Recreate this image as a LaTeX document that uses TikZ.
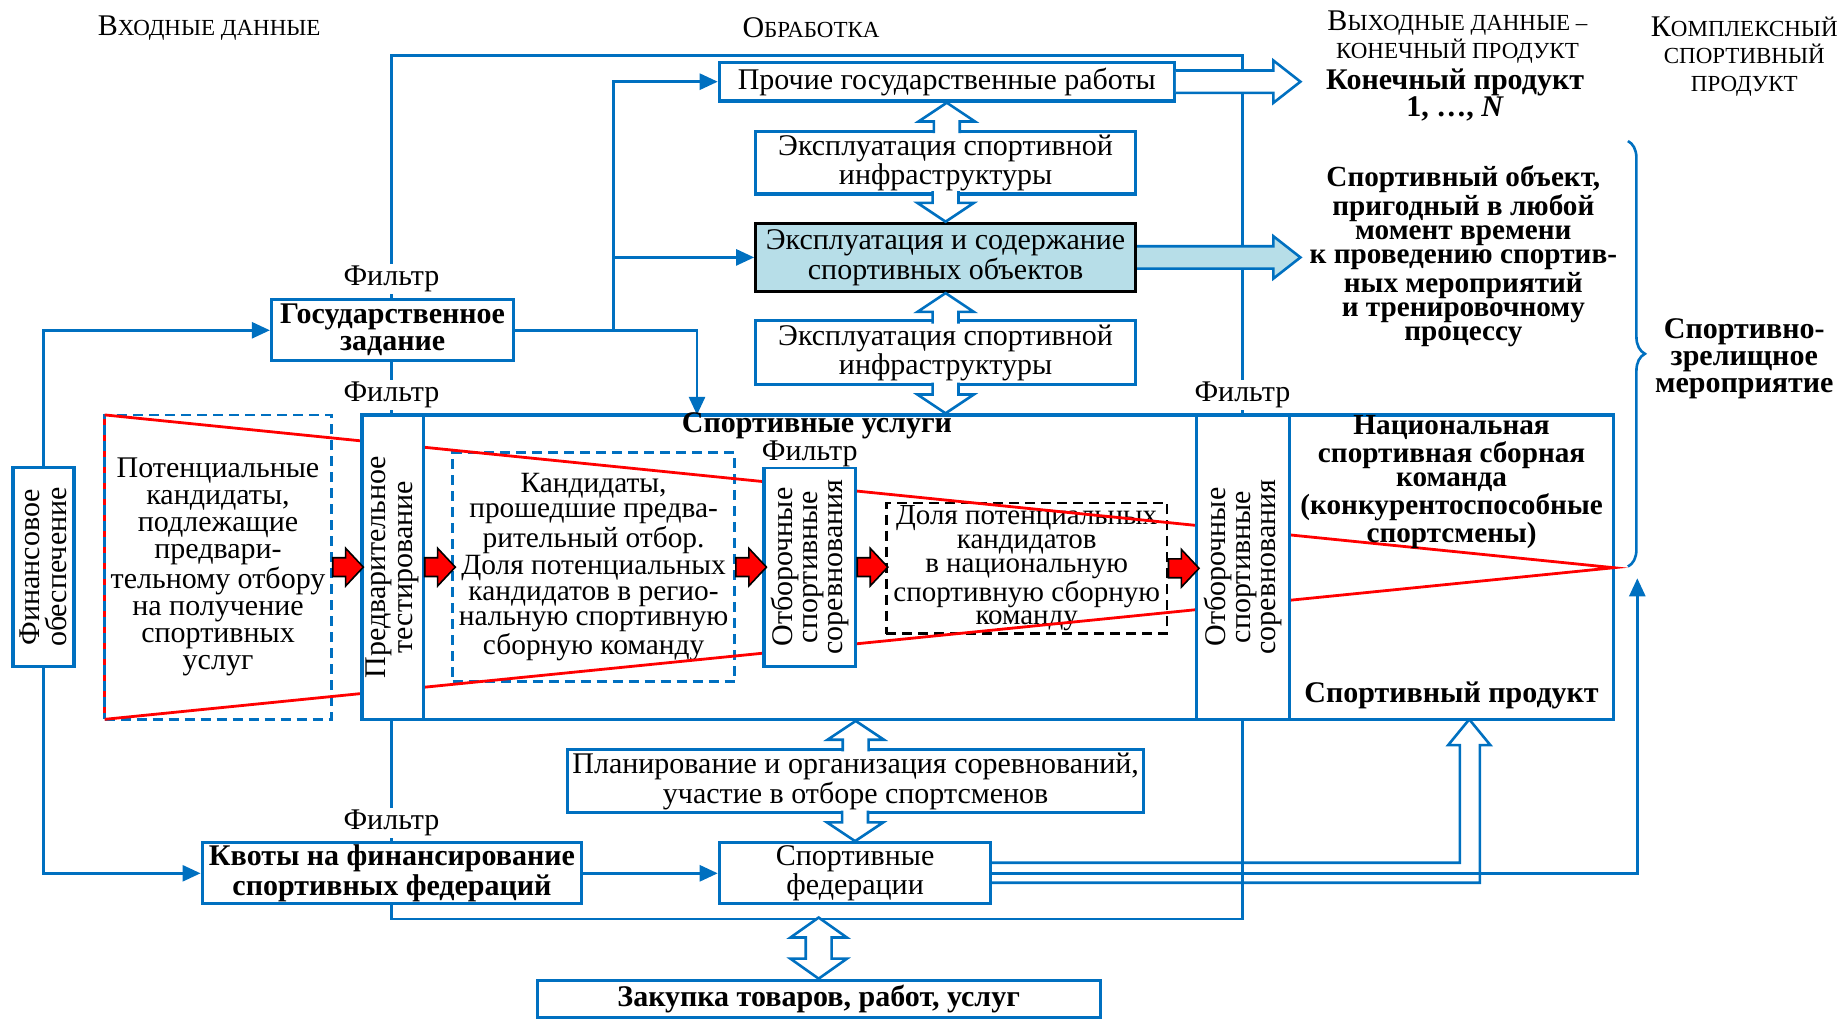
\documentclass[tikz,border=0pt]{standalone}
\usepackage{fontspec}
\setmainfont{Liberation Serif}
\usetikzlibrary{arrows.meta,decorations.pathreplacing,backgrounds,calc}
\definecolor{myblue}{HTML}{0070C0}
\definecolor{lblue}{HTML}{B7DEE8}
\definecolor{myred}{HTML}{FF0000}
\newcommand{\fnorm}{\fontsize{15}{13.5}\selectfont}
\newcommand{\fnormk}{\fontsize{14.7}{12.75}\selectfont}
\newcommand{\fnormt}{\fontsize{14.5}{11.9}\selectfont}
\newcommand{\fbold}{\fontsize{15}{13.5}\selectfont\bfseries}
\newcommand{\fboldt}{\fontsize{14.6}{12}\selectfont\bfseries}
\newcommand{\scbig}{\fontsize{15}{14}\selectfont}
\newcommand{\scsmall}{\fontsize{11.5}{14}\selectfont}
\tikzset{
  pics/uphol/.style={code={\draw[hol] (-11,26) -- (-11,16) -- (-24,16) -- (0,0) -- (24,16) -- (11,16) -- (11,26);}},
  pics/downhol/.style={code={\draw[hol] (-11,-26) -- (-11,-16) -- (-24,-16) -- (0,0) -- (24,-16) -- (11,-16) -- (11,-26);}},
  pics/dblhol/.style={code={\draw[hol] (0,0) -- (24,-17) -- (11,-17) -- (11,-35) -- (24,-35) -- (0,-52) -- (-24,-35) -- (-11,-35) -- (-11,-17) -- (-24,-17) -- cycle;}},
  pics/rhol/.style n args={2}{code={\draw[hol,fill=#2] (0,-9.5) -- (#1-23,-9.5) -- (#1-23,-18) -- (#1,0) -- (#1-23,18) -- (#1-23,9.5) -- (0,9.5);}},
  pics/redarr/.style={code={\draw[fill=myred,draw=black,line width=0.8pt,line join=miter] (0,-8) -- (11,-8) -- (11,-16) -- (26,0) -- (11,16) -- (11,8) -- (0,8) -- cycle;}}
}
\begin{document}
\begin{tikzpicture}[x=0.5877pt,y=-0.5877pt,
  ln/.style={draw=myblue,line width=1.3pt},
  arr/.style={ln,-{Triangle[length=9pt,width=8pt]}},
  box/.style={draw=myblue,line width=1.6pt,fill=white,inner sep=0pt,align=center,font=\fnorm},
  dbox/.style={draw=myblue,line width=1.3pt,dash pattern=on 5pt off 3pt,inner sep=0pt,align=center,font=\fnorm},
  sz/.style 2 args={minimum width=#1*0.5877pt,minimum height=#2*0.5877pt},
  lbl/.style={font=\fnorm,fill=white,inner sep=1pt},
  txt/.style={font=\fnorm,align=center,inner sep=0pt},
  btxt/.style={font=\fbold,align=center,inner sep=0pt},
  hol/.style={draw=myblue,line width=1.3pt,fill=white,line join=miter},
  redln/.style={draw=myred,line width=1.4pt}
]
\useasboundingbox (0,0) rectangle (1568,868);

% headers
\node[txt,font=\fontsize{15}{14}\selectfont] (h1) at (178,24) {{\scbig В}{\scsmall ХОДНЫЕ ДАННЫЕ}};
\node[txt,font=\fontsize{15}{14}\selectfont] (h2) at (690,24) {{\scbig О}{\scsmall БРАБОТКА}};
\node[txt,font=\fontsize{15}{14}\selectfont] (h3) at (1240,32) {{\scbig В}{\scsmall ЫХОДНЫЕ ДАННЫЕ –}\\{\scsmall КОНЕЧНЫЙ ПРОДУКТ}};
\node[txt,font=\fontsize{15}{13.8}\selectfont] (h4) at (1484,48) {{\scbig К}{\scsmall ОМПЛЕКСНЫЙ}\\{\scsmall СПОРТИВНЫЙ}\\{\scsmall ПРОДУКТ}};
\node[btxt] (kp) at (1238,81) {Конечный продукт\\1, …, \textit{N}};
\node[btxt,font=\fboldt] (so) at (1245,218) {Спортивный объект,\\пригодный в любой\\момент времени\\к проведению спортив-\\ных мероприятий\\и тренировочному\\процессу};
\node[btxt] (sz) at (1484,305) {Спортивно-\\зрелищное\\мероприятие};

% processing boxes
\node[box,sz={387}{33}] (proch) at (805.5,69.5) {Прочие государственные работы};
\node[box,sz={323}{53}] (exp1) at (804.5,138.5) {Эксплуатация спортивной\\инфраструктуры};
\node[box,sz={323}{58},fill=lblue,draw=black] (expS) at (804.5,219) {Эксплуатация и содержание\\спортивных объектов};
\node[box,sz={323}{54}] (exp2) at (804.5,300) {Эксплуатация спортивной\\инфраструктуры};
\node[box,sz={206}{52},font=\fbold] (gov) at (334,281) {Государственное\\задание};
\node[box,sz={52}{169}] (fin) at (37,482.5) {};
\node[txt,rotate=90] at (fin.center) {Финансовое\\обеспечение};

% sport services
\node[box,sz={1065}{259}] (sport) at (840.5,482.5) {};
\node[btxt] (sut) at (695,362) {Спортивные услуги};
\draw[redln] (89,353) -- (89,612);
\node[dbox,sz={193}{259}] (pot) at (185.5,482.5) {Потенциальные\\кандидаты,\\подлежащие\\предвари-\\тельному отбору\\на получение\\спортивных\\услуг};
\node[dbox,sz={240}{195},font=\fnormk] (kand) at (505,482.5) {Кандидаты,\\прошедшие предва-\\рительный отбор.\\Доля потенциальных\\кандидатов в регио-\\нальную спортивную\\сборную команду};
\node[dbox,draw=black,sz={239}{111},font=\fnormt] (dolya) at (873.5,483.5) {Доля потенциальных\\кандидатов\\в национальную\\спортивную сборную\\команду};
\coordinate (apex) at (1373,483);
\draw[redln] (89,353) -- (apex) -- (89,612);
\node[box,sz={52}{259}] (pret) at (334,482.5) {};
\node[txt,rotate=90] at (pret.center) {Предварительное\\тестирование};
\node[box,sz={78}{169}] (otb1) at (689,482.5) {};
\node[txt,rotate=90,font=\fontsize{15}{12.5}\selectfont] at (otb1.center) {Отборочные\\спортивные\\соревнования};
\node[box,sz={79}{259}] (otb2) at (1057.5,482.5) {};
\node[txt,rotate=90,font=\fontsize{15}{12.5}\selectfont] at (otb2.center) {Отборочные\\спортивные\\соревнования};
\node[btxt,font=\fboldt] (nat) at (1235,410) {Национальная\\спортивная сборная\\команда\\(конкурентоспособные\\спортсмены)};
\node[btxt] (spp) at (1235,592) {Спортивный продукт};
\pic at (pot.east) {redarr};
\pic at (pret.east) {redarr};
\pic at (kand.east) {redarr};
\pic at (otb1.east) {redarr};
\pic at (dolya.east) {redarr};

% lower boxes
\node[box,sz={490}{53}] (plan) at (728,664.5) {Планирование и организация соревнований,\\участие в отборе спортсменов};
\node[box,sz={231}{52}] (fed) at (727.5,743) {Спортивные\\федерации};
\node[box,sz={323}{52},font=\fbold] (kvot) at (333.5,743) {Квоты на финансирование\\спортивных федераций};
\node[box,sz={479}{32},font=\fbold] (zak) at (696.5,850) {Закупка товаров, работ, услуг};

% filter labels
\node[lbl] (f1l) at (333,237) {Фильтр};
\node[lbl] (f2l) at (333,336) {Фильтр};
\node[lbl] (f3l) at (1057,336) {Фильтр};
\node[lbl] (f4l) at (333,700) {Фильтр};
\node[lbl,inner sep=0pt] (f5l) at (689,386) {Фильтр};

% hollow arrows
\pic at (proch.south) {uphol};
\pic at (expS.north) {downhol};
\pic at (expS.south) {uphol};
\pic at (sport.north -| exp2.south) {downhol};
\pic at (plan.north |- sport.south) {uphol};
\pic at (fed.north) {downhol};
\pic at (zak.north) {dblhol};
\pic at (proch.east) {rhol={106}{white}};
\pic at (expS.east) {rhol={139}{lblue}};

% brace
\draw[myblue,line width=1.3pt,decorate,decoration={brace,amplitude=8.5pt}] (1385,120) -- (1385,482);

% connectors
\coordinate (lt) at (333,47);
\coordinate (rb) at (1057,782);
\coordinate (j1) at (522,281);
\coordinate (j2) at (522,219);
\coordinate (s1) at (593,353);
\coordinate (br) at (1393,492);
\coordinate (fa) at (843,734);
\coordinate (fb) at (843,751);
\coordinate (pt) at (1250,612);
\begin{scope}[on background layer]
\draw[ln] (lt) rectangle (rb);
\draw[arr] (gov.east) -- (j1) |- (proch.west);
\draw[arr] (j2) -- (expS.west);
\draw[arr] (j1) -| (s1);
\draw[arr] (fin.north) |- (gov.west);
\draw[arr] (fin.south) |- (kvot.west);
\draw[arr] (kvot.east) -- (fed.west);
\draw[arr] (fed.east) -| (br);
\draw[ln,line join=miter] (fa) -- (1242,734) -- (1242,634) -- (1232,634) -- (pt) -- (1268,634) -- (1259,634) -- (1259,751) -- (fb);
\end{scope}
\end{tikzpicture}
\end{document}
